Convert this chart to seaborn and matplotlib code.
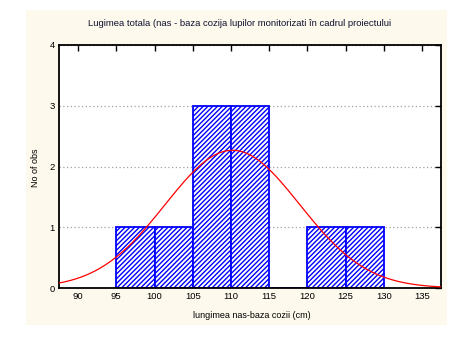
import numpy as np
import pandas as pd
import matplotlib
matplotlib.use("Agg")
import matplotlib.pyplot as plt
from matplotlib.patches import Rectangle
import seaborn as sns

# ---- data ----
bin_edges = [95, 100, 105, 110, 115, 120, 125, 130]
bin_counts = [1, 1, 3, 3, 0, 1, 1]
fit_mean = 110.2
fit_sd = 8.8
x_ticks = [90, 95, 100, 105, 110, 115, 120, 125, 130, 135]
y_ticks = [0, 1, 2, 3, 4]
title = "Lugimea totala (nas - baza cozija lupilor monitorizati în cadrul proiectului"
x_label = "lungimea nas-baza cozii (cm)"
y_label = "No of obs"

sns.set_style("white")
plt.rcParams["font.family"] = ["Liberation Sans", "DejaVu Sans"]
plt.rcParams["hatch.linewidth"] = 1.0

W, H = 467, 339
fig = plt.figure(figsize=(W / 100, H / 100), dpi=100, facecolor="white")
# cream panel behind the plot
fig.patches.append(Rectangle((26 / W, 1 - 325 / H), (447 - 26) / W, (325 - 10) / H,
                             transform=fig.transFigure, facecolor="#FDF9EC",
                             edgecolor="none", zorder=-10))
ax = fig.add_axes([59 / W, 1 - 288 / H, (441 - 59) / W, (288 - 45) / H])
ax.set_zorder(5)
ax.set_facecolor("white")

centers = [(a + b) / 2 for a, b in zip(bin_edges[:-1], bin_edges[1:])]
df = pd.DataFrame({"x": centers, "w": bin_counts})
sns.histplot(data=df, x="x", weights="w", bins=bin_edges, ax=ax,
             color="white", edgecolor="#0000FF", linewidth=1.3, alpha=1)
for p in ax.patches:
    p.set_hatch("///////")
    p.set_facecolor("white")
    p.set_edgecolor("#0000FF")
    p.set_zorder(2)

# fitted normal curve
n = sum(bin_counts)
bw = bin_edges[1] - bin_edges[0]
xs = np.linspace(87.5, 137.5, 300)
ys = n * bw / (fit_sd * np.sqrt(2 * np.pi)) * np.exp(-0.5 * ((xs - fit_mean) / fit_sd) ** 2)
sns.lineplot(x=xs, y=ys, ax=ax, color="#FF0000", linewidth=0.9, zorder=3)

ax.set_xlim(87.5, 137.5)
ax.set_ylim(0, 4)
ax.set_xticks(x_ticks)
ax.set_yticks(y_ticks)
ax.tick_params(direction="in", length=4, width=1, top=True, right=True,
               labelsize=6.8, colors="black", pad=3)
for s in ax.spines.values():
    s.set_color("black")
    s.set_linewidth(1.3)
ax.yaxis.grid(True, linestyle=(0, (1, 2)), color="#A0A0A0", linewidth=0.9, zorder=1)
ax.set_axisbelow(True)

ax.set_xlabel("")
ax.set_ylabel("")
fig.text(240 / W, 1 - 23 / H, title, ha="center", va="center", fontsize=6.8, color="#101030")
fig.text(252 / W, 1 - 315 / H, x_label, ha="center", va="center", fontsize=6.5, color="black")
fig.text(36 / W, 1 - 168 / H, y_label, ha="center", va="center", rotation=90,
         fontsize=6.5, color="black")

fig.savefig("out.png", dpi=100, facecolor="white")
